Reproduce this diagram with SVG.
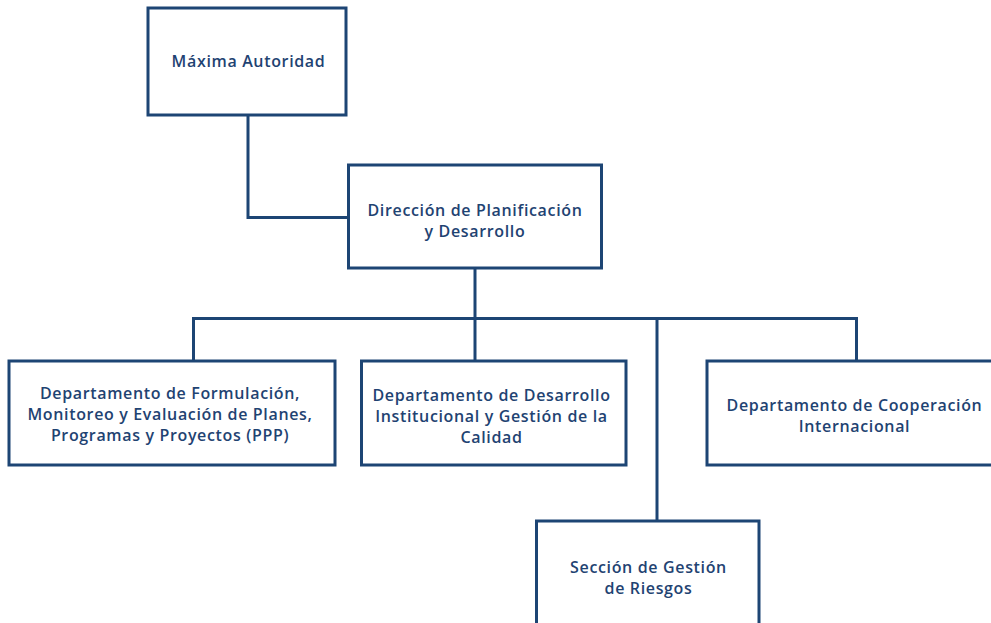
<svg xmlns="http://www.w3.org/2000/svg" width="991" height="623" viewBox="0 0 991 623">
  <style>
    .box { fill: #ffffff; stroke: #1d4574; stroke-width: 3; }
    .link { fill: none; stroke: #1d4574; stroke-width: 3; }
    .label { font-family: "Open Sans", "Liberation Sans", sans-serif; font-size: 16px; font-weight: 600; letter-spacing: 0.65px; fill: #1f4372; text-anchor: middle; }
  </style>
  <rect width="991" height="623" fill="#ffffff"/>

  <!-- connectors -->
  <g id="connectors">
    <polyline class="link" points="248,115 248,217.5 349,217.5"/>
    <line class="link" x1="475" y1="268" x2="475" y2="318.5"/>
    <polyline class="link" points="193.5,361 193.5,318.5 856.5,318.5 856.5,361"/>
    <line class="link" x1="475" y1="318.5" x2="475" y2="361"/>
    <line class="link" x1="657" y1="318.5" x2="657" y2="521"/>
  </g>

  <g id="maxima-autoridad">
    <rect class="box" x="148" y="8" width="198" height="107"/>
    <text class="label" x="248.5" y="66.5">Máxima Autoridad</text>
  </g>

  <g id="direccion-planificacion">
    <rect class="box" x="348.5" y="165" width="253" height="103"/>
    <text class="label" x="475" y="216">Dirección de Planificación</text>
    <text class="label" x="475" y="237">y Desarrollo</text>
  </g>

  <g id="depto-formulacion">
    <rect class="box" x="9" y="361" width="326" height="104"/>
    <text class="label" x="170" y="398.5">Departamento de Formulación,</text>
    <text class="label" x="170" y="419.5">Monitoreo y Evaluación de Planes,</text>
    <text class="label" x="170" y="440.5">Programas y Proyectos (PPP)</text>
  </g>

  <g id="depto-desarrollo">
    <rect class="box" x="361.5" y="361" width="264.5" height="104"/>
    <text class="label" x="491.5" y="401">Departamento de Desarrollo</text>
    <text class="label" x="491.5" y="422">Institucional y Gestión de la</text>
    <text class="label" x="491.5" y="443">Calidad</text>
  </g>

  <g id="depto-cooperacion">
    <rect class="box" x="707" y="361" width="300" height="104"/>
    <text class="label" x="854.5" y="411">Departamento de Cooperación</text>
    <text class="label" x="854.5" y="432">Internacional</text>
  </g>

  <g id="seccion-riesgos">
    <rect class="box" x="536.5" y="521" width="222.5" height="120"/>
    <text class="label" x="648.5" y="573">Sección de Gestión</text>
    <text class="label" x="648.5" y="594">de Riesgos</text>
  </g>
</svg>
